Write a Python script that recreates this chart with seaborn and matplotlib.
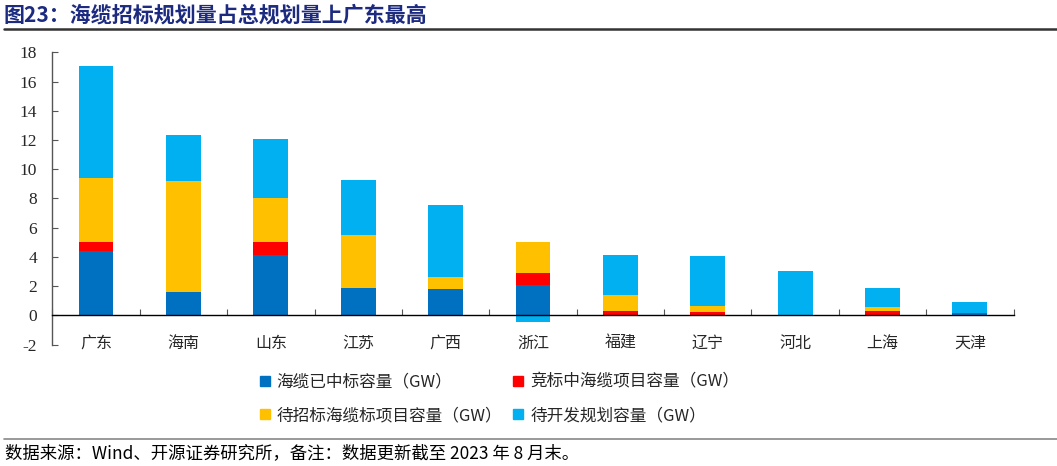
import numpy as np
import pandas as pd
import matplotlib
matplotlib.use('Agg')
import matplotlib.pyplot as plt
from matplotlib.lines import Line2D
import seaborn as sns

# data (GW)
provinces = ['广东', '海南', '山东', '江苏', '广西', '浙江', '福建', '辽宁', '河北', '上海', '天津']
awarded = [4.38, 1.60, 4.10, 1.89, 1.80, 2.05, 0.00, 0.00, 0.00, 0.00, 0.18]
bidding = [0.64, 0.00, 0.92, 0.00, 0.00, 0.82, 0.29, 0.25, 0.00, 0.29, 0.00]
to_tender = [4.38, 7.57, 2.98, 3.61, 0.84, 2.13, 1.08, 0.39, 0.00, 0.26, 0.00]
to_develop = [7.68, 3.19, 4.07, 3.74, 4.91, -0.48, 2.76, 3.44, 3.03, 1.30, 0.75]

series_labels = ['海缆已中标容量（GW）', '竞标中海缆项目容量（GW）',
                 '待招标海缆标项目容量（GW）', '待开发规划容量（GW）']
series_colors = ['#0070C0', '#FF0000', '#FFC000', '#00B0F0']

df = pd.DataFrame({'province': provinces,
                   series_labels[0]: awarded,
                   series_labels[1]: bidding,
                   series_labels[2]: to_tender,
                   series_labels[3]: to_develop})

sns.set_theme(style='white')
plt.rcParams['font.family'] = ['Noto Sans CJK SC', 'DejaVu Sans']
plt.rcParams['axes.unicode_minus'] = False

fig = plt.figure(figsize=(10.57, 4.66), dpi=100)
ax = fig.add_axes([0.0495, 0.2607, 0.9095, 0.6271])

# stack positives upward and negatives downward, like excel
pos_base = np.zeros(len(provinces))
neg_base = np.zeros(len(provinces))
for label, color in zip(series_labels, series_colors):
    vals = df[label].to_numpy()
    bottom = np.where(vals >= 0, pos_base, neg_base)
    sns.barplot(x=df['province'], y=vals, bottom=bottom, color=color,
                width=0.4, linewidth=0, saturation=1, ax=ax)
    pos_base = pos_base + np.clip(vals, 0, None)
    neg_base = neg_base + np.clip(vals, None, 0)

ax.set_xlim(-0.5, len(provinces) - 0.5)
ax.set_ylim(-2, 18)
ax.set_yticks(range(-2, 19, 2))
ax.set_yticklabels([str(v) for v in range(-2, 19, 2)],
                   family='Liberation Serif', fontsize=12.5)
ax.set_xlabel('')
ax.set_ylabel('')

for s in ['top', 'right']:
    ax.spines[s].set_visible(False)
ax.spines['bottom'].set_position(('data', 0))
ax.spines['bottom'].set_color('black')
ax.spines['left'].set_color('#555555')
ax.spines['bottom'].set_linewidth(1.0)
ax.spines['left'].set_linewidth(1.0)

ax.tick_params(axis='y', direction='in', length=4, width=0.8, color='#555555',
               pad=11, left=True)
ax.set_xticks(range(len(provinces)))
ax.set_xticklabels(provinces, fontsize=11.5)
ax.set_xticks(np.arange(-0.5, len(provinces)), minor=True)
ax.tick_params(axis='x', which='major', length=0, pad=14)
ax.tick_params(axis='x', which='minor', direction='in', length=4, width=0.8,
               color='#555555', bottom=True)

# legend
handles = [Line2D([], [], marker='s', linestyle='', markersize=7,
                  markerfacecolor=c, markeredgecolor=c) for c in series_colors]
order = [0, 2, 1, 3]
fig.legend([handles[i] for i in order], [series_labels[i] for i in order],
           ncol=2, loc='center', bbox_to_anchor=(0.4716, 0.144), frameon=False,
           fontsize=12, handlelength=0.8, handletextpad=0.3,
           columnspacing=0.6, labelspacing=1.0)

# title and footer
fig.text(0.003, 0.967, '图23：海缆招标规划量占总规划量上广东最高', fontsize=15.1,
         fontweight='bold', color='#1C2A80', va='center', ha='left')
fig.add_artist(Line2D([0.004, 1.0], [0.937, 0.937], color='#333333', lw=1.8))
fig.add_artist(Line2D([0.004, 1.0], [0.058, 0.058], color='#888888', lw=1.2))
fig.text(0.005, 0.028, '数据来源：Wind、开源证券研究所，备注：数据更新截至 2023 年 8 月末。',
         fontsize=12.5, color='black', va='center', ha='left')

fig.savefig('out.png', dpi=100)
